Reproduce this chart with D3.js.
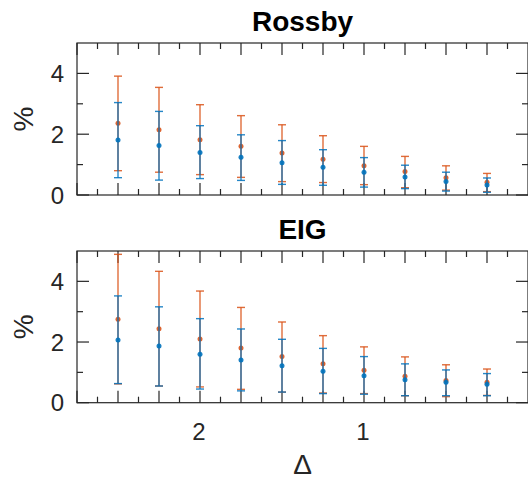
<!DOCTYPE html>
<html lang="en">
  <head>
    <meta charset="UTF-8" />
    <title>Rossby / EIG</title>
    <script src="https://cdn.jsdelivr.net/npm/d3@7"></script>
    <style>
      body { margin: 0; background: #fff; }
      svg { display: block; font-family: "Liberation Sans", Arial, sans-serif; }
    </style>
  </head>
  <body>
    <div id="chart"></div>
    <script>
      // x positions (Delta) shared by both panels
      const delta = [2.5, 2.25, 2, 1.75, 1.5, 1.25, 1, 0.75, 0.5, 0.25];
      const xTickLabels = [2, 1];
      const yTickLabels = [0, 2, 4];

      // Rossby panel
      const rossbyOrangeMean = [2.36, 2.15, 1.82, 1.6, 1.38, 1.18, 0.96, 0.77, 0.57, 0.42];
      const rossbyOrangeLow = [0.8, 0.75, 0.67, 0.58, 0.44, 0.41, 0.34, 0.24, 0.16, 0.11];
      const rossbyOrangeHigh = [3.91, 3.54, 2.97, 2.61, 2.31, 1.95, 1.6, 1.27, 0.96, 0.71];
      const rossbyBlueMean = [1.81, 1.63, 1.4, 1.24, 1.06, 0.91, 0.75, 0.59, 0.44, 0.33];
      const rossbyBlueLow = [0.57, 0.49, 0.54, 0.48, 0.35, 0.32, 0.26, 0.21, 0.13, 0.09];
      const rossbyBlueHigh = [3.04, 2.75, 2.28, 1.98, 1.79, 1.49, 1.23, 0.98, 0.75, 0.56];

      // EIG panel
      const eigOrangeMean = [2.75, 2.44, 2.1, 1.8, 1.52, 1.28, 1.07, 0.87, 0.73, 0.67];
      const eigOrangeLow = [0.62, 0.55, 0.52, 0.44, 0.35, 0.32, 0.3, 0.23, 0.2, 0.24];
      const eigOrangeHigh = [4.89, 4.33, 3.68, 3.14, 2.66, 2.21, 1.84, 1.51, 1.25, 1.11];
      const eigBlueMean = [2.07, 1.87, 1.6, 1.41, 1.22, 1.04, 0.89, 0.76, 0.67, 0.61];
      const eigBlueLow = [0.63, 0.55, 0.45, 0.39, 0.35, 0.3, 0.28, 0.23, 0.23, 0.23];
      const eigBlueHigh = [3.52, 3.16, 2.77, 2.43, 2.09, 1.79, 1.52, 1.28, 1.08, 0.96];

      const orange = "#D95319";
      const blue = "#0072BD";
      const axisColor = "#262626";

      let width = 528;
      let height = 481;

      let svg = d3
        .select("#chart")
        .append("svg")
        .attr("width", width)
        .attr("height", height);

      // reversed x axis, like set(gca,'XDir','reverse')
      let x = d3.scaleLinear().domain([2.75, 0]).range([77, 528]);
      let majorX = d3.range(0.25, 2.751, 0.25);
      let minorX = d3.range(0.125, 2.75, 0.25);

      function series(mean, low, high) {
        return delta.map((d, i) => ({ x: d, m: mean[i], lo: low[i], hi: high[i] }));
      }

      function drawPanel(top, bottom, title, groups, showXLabels) {
        let y = d3.scaleLinear().domain([0, 5]).range([bottom, top]);
        let g = svg.append("g");
        let [x0, x1] = x.range();

        // tick marks on all four sides
        let ticks = g.append("g").attr("stroke", axisColor).attr("stroke-width", 1.2);
        majorX.forEach((v) => {
          ticks.append("line").attr("x1", x(v)).attr("x2", x(v)).attr("y1", bottom).attr("y2", bottom - 12);
          ticks.append("line").attr("x1", x(v)).attr("x2", x(v)).attr("y1", top).attr("y2", top + 12);
        });
        minorX.forEach((v) => {
          ticks.append("line").attr("x1", x(v)).attr("x2", x(v)).attr("y1", bottom).attr("y2", bottom - 6);
          ticks.append("line").attr("x1", x(v)).attr("x2", x(v)).attr("y1", top).attr("y2", top + 6);
        });
        [0, 1, 2, 3, 4].forEach((v) => {
          let len = v % 2 === 0 ? 12 : 6;
          ticks.append("line").attr("x1", x0).attr("x2", x0 + len).attr("y1", y(v)).attr("y2", y(v));
          ticks.append("line").attr("x1", x1).attr("x2", x1 - len).attr("y1", y(v)).attr("y2", y(v));
        });

        // error bars, orange first then blue on top
        groups.forEach(function (grp) {
          let bars = g.append("g").attr("stroke", grp.color).attr("stroke-opacity", 0.85).attr("stroke-width", 1.4);
          grp.data.forEach(function (d) {
            bars.append("line").attr("x1", x(d.x)).attr("x2", x(d.x)).attr("y1", y(d.lo)).attr("y2", y(d.hi));
            bars.append("line").attr("x1", x(d.x) - 4).attr("x2", x(d.x) + 4).attr("y1", y(d.lo)).attr("y2", y(d.lo));
            bars.append("line").attr("x1", x(d.x) - 4).attr("x2", x(d.x) + 4).attr("y1", y(d.hi)).attr("y2", y(d.hi));
          });
          g.append("g")
            .selectAll("circle")
            .data(grp.data)
            .enter()
            .append("circle")
            .attr("cx", (d) => x(d.x))
            .attr("cy", (d) => y(d.m))
            .attr("r", 2.5)
            .attr("fill", grp.color)
            .attr("fill-opacity", 0.9);
        });

        // box
        g.append("rect")
          .attr("x", x0)
          .attr("y", top)
          .attr("width", x1 - x0)
          .attr("height", bottom - top)
          .attr("fill", "none")
          .attr("stroke", axisColor)
          .attr("stroke-width", 1.2);

        // y tick labels
        g.selectAll(".ylab")
          .data(yTickLabels)
          .enter()
          .append("text")
          .attr("x", 64)
          .attr("y", (d) => y(d))
          .attr("dy", "0.36em")
          .attr("text-anchor", "end")
          .attr("font-size", "24px")
          .attr("fill", axisColor)
          .text((d) => d);

        g.append("text")
          .attr("transform", `translate(33, ${(top + bottom) / 2}) rotate(-90)`)
          .attr("text-anchor", "middle")
          .attr("font-size", "28px")
          .attr("fill", axisColor)
          .text("%");

        g.append("text")
          .attr("x", (x0 + x1) / 2)
          .attr("y", top - 12)
          .attr("text-anchor", "middle")
          .attr("font-size", "28px")
          .attr("font-weight", "bold")
          .attr("fill", "#000")
          .text(title);

        if (showXLabels) {
          g.selectAll(".xlab")
            .data(xTickLabels)
            .enter()
            .append("text")
            .attr("x", (d) => x(d) - 1)
            .attr("y", bottom + 37)
            .attr("text-anchor", "middle")
            .attr("font-size", "24px")
            .attr("fill", axisColor)
            .text((d) => d);

          g.append("text")
            .attr("x", (x0 + x1) / 2)
            .attr("y", bottom + 71.5)
            .attr("text-anchor", "middle")
            .attr("font-size", "28px")
            .attr("fill", axisColor)
            .text("\u0394");
        }
      }

      drawPanel(43, 195, "Rossby", [
        { color: orange, data: series(rossbyOrangeMean, rossbyOrangeLow, rossbyOrangeHigh) },
        { color: blue, data: series(rossbyBlueMean, rossbyBlueLow, rossbyBlueHigh) },
      ], false);

      drawPanel(251, 402.7, "EIG", [
        { color: orange, data: series(eigOrangeMean, eigOrangeLow, eigOrangeHigh) },
        { color: blue, data: series(eigBlueMean, eigBlueLow, eigBlueHigh) },
      ], true);
    </script>
  </body>
</html>
